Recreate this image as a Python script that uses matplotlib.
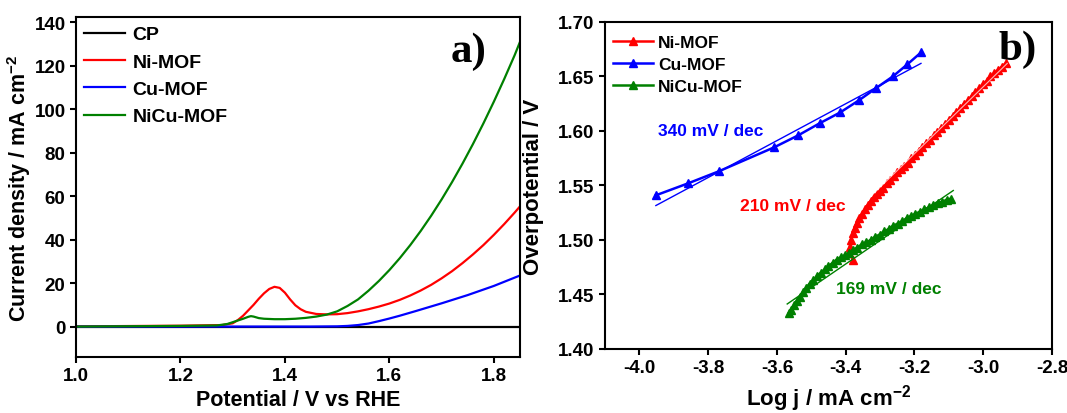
import matplotlib
matplotlib.use("Agg")
import matplotlib.pyplot as plt
import numpy as np

plt.rcParams['font.family'] = 'Liberation Sans'
plt.rcParams['font.weight'] = 'bold'
plt.rcParams['axes.unicode_minus'] = False
plt.rcParams['mathtext.fontset'] = 'custom'
plt.rcParams['mathtext.rm'] = 'Liberation Sans:bold'
plt.rcParams['mathtext.bf'] = 'Liberation Sans:bold'

# ---- LSV curves (left) ----
cp_v = [1.0, 1.85]
cp_j = [0.0, 0.0]

ni_v = [1.00, 1.20, 1.28, 1.30, 1.31, 1.32, 1.33, 1.34, 1.35, 1.36, 1.37, 1.38, 1.39,
        1.40, 1.41, 1.42, 1.43, 1.44, 1.46, 1.48, 1.50, 1.52, 1.54, 1.56, 1.58, 1.60,
        1.62, 1.64, 1.66, 1.68, 1.70, 1.72, 1.74, 1.76, 1.78, 1.80, 1.82, 1.84, 1.85]
ni_j = [0.1, 0.4, 0.7, 1.5, 3.0, 5.0, 7.5, 10.0, 12.8, 15.3, 17.3, 18.3, 17.8,
        15.6, 12.5, 9.8, 8.0, 6.8, 5.8, 5.6, 5.7, 6.2, 7.0, 8.0, 9.2, 10.6,
        12.3, 14.3, 16.6, 19.2, 22.2, 25.5, 29.2, 33.2, 37.5, 42.2, 47.2, 52.5, 55.3]

cu_v = [1.00, 1.45, 1.50, 1.52, 1.54, 1.56, 1.58, 1.60, 1.62, 1.65, 1.70, 1.75, 1.80, 1.85]
cu_j = [0.0, 0.0, 0.1, 0.3, 0.7, 1.4, 2.5, 3.7, 5.0, 7.1, 10.7, 14.5, 18.7, 23.5]

nicu_v = [1.00, 1.20, 1.27, 1.29, 1.30, 1.31, 1.32, 1.33, 1.335, 1.34, 1.35, 1.36, 1.38,
          1.40, 1.42, 1.44, 1.46, 1.48, 1.50, 1.52, 1.54, 1.56, 1.58, 1.60, 1.62, 1.64,
          1.66, 1.68, 1.70, 1.72, 1.74, 1.76, 1.78, 1.80, 1.82, 1.84, 1.85]
nicu_j = [0.0, 0.3, 0.5, 1.2, 2.0, 2.8, 3.6, 4.5, 4.8, 4.6, 3.9, 3.6, 3.4,
          3.4, 3.6, 4.0, 4.6, 5.5, 7.0, 9.5, 12.5, 16.5, 21.0, 26.0, 31.5, 37.5,
          44.0, 51.0, 58.5, 66.5, 75.0, 84.0, 93.5, 103.5, 114.0, 125.0, 131.0]

# ---- Tafel plots (right) ----
cu_logj = [-3.952, -3.858, -3.769, -3.608, -3.538, -3.476, -3.416, -3.362, -3.313,
           -3.263, -3.221, -3.181]
cu_eta = [1.541, 1.552, 1.563, 1.585, 1.596, 1.607, 1.617, 1.628, 1.639,
          1.650, 1.661, 1.672]

ni_logj = [-3.378, -3.390, -3.388, -3.385, -3.380, -3.374, -3.367, -3.360, -3.352,
           -3.344, -3.336, -3.327, -3.318, -3.309, -3.300, -3.290, -3.280, -3.270,
           -3.260, -3.250, -3.240, -3.230, -3.220, -3.210, -3.199, -3.188, -3.177,
           -3.166, -3.155, -3.144, -3.133, -3.122, -3.111, -3.100, -3.089, -3.078,
           -3.067, -3.056, -3.045, -3.034, -3.023, -3.012, -3.001, -2.990, -2.979,
           -2.968, -2.957, -2.946, -2.935]
ni_eta = [1.482, 1.488, 1.494, 1.500, 1.506, 1.511, 1.516, 1.520, 1.524,
          1.528, 1.532, 1.536, 1.539, 1.542, 1.545, 1.548, 1.552, 1.555,
          1.559, 1.562, 1.565, 1.568, 1.571, 1.575, 1.578, 1.582, 1.585,
          1.589, 1.592, 1.596, 1.599, 1.603, 1.606, 1.610, 1.614, 1.617,
          1.621, 1.625, 1.628, 1.632, 1.636, 1.639, 1.643, 1.646, 1.650,
          1.653, 1.656, 1.659, 1.662]

nicu_logj = [-3.565, -3.558, -3.550, -3.542, -3.534, -3.525, -3.515, -3.505, -3.494,
             -3.483, -3.472, -3.461, -3.450, -3.438, -3.426, -3.414, -3.402, -3.390,
             -3.378, -3.366, -3.353, -3.340, -3.327, -3.314, -3.301, -3.288, -3.275,
             -3.262, -3.249, -3.236, -3.223, -3.210, -3.197, -3.184, -3.171, -3.158,
             -3.145, -3.132, -3.119, -3.106, -3.093]
nicu_eta = [1.433, 1.436, 1.440, 1.444, 1.448, 1.452, 1.456, 1.460, 1.463,
            1.467, 1.470, 1.473, 1.476, 1.479, 1.482, 1.484, 1.486, 1.488,
            1.491, 1.493, 1.496, 1.498, 1.500, 1.503, 1.505, 1.508, 1.510,
            1.513, 1.515, 1.517, 1.520, 1.522, 1.524, 1.526, 1.528, 1.530,
            1.532, 1.534, 1.535, 1.537, 1.538]

# linear fit segments (end points)
cu_fit_x = [-3.952, -3.181]
cu_fit_y = [1.5316, 1.6620]
ni_fit_x = [-3.360, -2.930]
ni_fit_y = [1.530, 1.662]
nicu_fit_x = [-3.570, -3.087]
nicu_fit_y = [1.4413, 1.5454]

slope_labels = ["340 mV / dec", "210 mV / dec", "169 mV / dec"]

RED = '#ff0000'
BLUE = '#0000ff'
GREEN = '#008000'

fig = plt.figure(figsize=(10.67, 4.14), dpi=100)
ax1 = fig.add_axes([0.0712, 0.1353, 0.4161, 0.8213])
ax2 = fig.add_axes([0.5670, 0.1546, 0.4189, 0.7899])

for ax in (ax1, ax2):
    for s in ax.spines.values():
        s.set_linewidth(1.5)
    ax.tick_params(direction='out', length=4, width=1.5, labelsize=13.5,
                   top=False, right=False)

# left panel
ax1.plot(cp_v, cp_j, color='black', lw=1.6, label='CP')
ax1.plot(ni_v, ni_j, color=RED, lw=1.6, label='Ni-MOF')
ax1.plot(cu_v, cu_j, color=BLUE, lw=1.6, label='Cu-MOF')
ax1.plot(nicu_v, nicu_j, color=GREEN, lw=1.6, label='NiCu-MOF')
ax1.set_xlim(1.0, 1.85)
ax1.set_ylim(-14, 142.5)
ax1.set_xticks(np.arange(1.0, 1.81, 0.2))
ax1.set_yticks(np.arange(0, 141, 20))
ax1.xaxis.set_major_formatter(plt.FormatStrFormatter('%.1f'))
ax1.set_xlabel('Potential / V vs RHE', fontsize=15.5, fontweight='bold')
ax1.set_ylabel(r'Current density / mA cm$^{-2}$', fontsize=15.5, fontweight='bold')
ax1.xaxis.set_label_coords(0.5, -0.093)
ax1.yaxis.set_label_coords(-0.128, 0.5)
ax1.yaxis.label.set_va('center')
ax1.legend(loc='upper left', frameon=False, fontsize=14, handlelength=2.1,
           handletextpad=0.4, labelspacing=0.5, borderaxespad=0.0,
           bbox_to_anchor=(0.0, 0.997))
ax1.text(1.718, 126.8, 'a)', fontsize=31, fontweight='bold', family='Liberation Serif',
         va='center', ha='left')

# right panel
ax2.plot(ni_logj, ni_eta, color=RED, lw=1.8, marker='^', ms=6, label='Ni-MOF')
ax2.plot(cu_logj, cu_eta, color=BLUE, lw=1.8, marker='^', ms=6, label='Cu-MOF')
ax2.plot(nicu_logj, nicu_eta, color=GREEN, lw=1.8, marker='^', ms=6, label='NiCu-MOF')
ax2.plot(ni_fit_x, ni_fit_y, color='white', lw=0.8, alpha=0.7)
ax2.plot(cu_fit_x, cu_fit_y, color=BLUE, lw=1.0)
ax2.plot(nicu_fit_x, nicu_fit_y, color=GREEN, lw=1.0)
ax2.set_xlim(-4.1, -2.8)
ax2.set_ylim(1.40, 1.70)
ax2.set_xticks(np.arange(-4.0, -2.79, 0.2))
ax2.set_yticks(np.arange(1.40, 1.701, 0.05))
ax2.xaxis.set_major_formatter(plt.FormatStrFormatter('%.1f'))
ax2.yaxis.set_major_formatter(plt.FormatStrFormatter('%.2f'))
ax2.set_xlabel(r'Log j / mA cm$^{-2}$', fontsize=16, fontweight='bold')
ax2.set_ylabel('Overpotential / V', fontsize=16, fontweight='bold')
ax2.xaxis.set_label_coords(0.5, -0.100)
ax2.yaxis.set_label_coords(-0.159, 0.5)
ax2.yaxis.label.set_va('center')
ax2.legend(loc='upper left', frameon=False, fontsize=12.5, handlelength=2.3,
           handletextpad=0.3, labelspacing=0.4, borderaxespad=0.0,
           bbox_to_anchor=(0.002, 0.983))
ax2.text(-3.947, 1.6005, slope_labels[0], color=BLUE, fontsize=12.5, fontweight='bold', va='center')
ax2.text(-3.708, 1.5316, slope_labels[1], color=RED, fontsize=12.5, fontweight='bold', va='center')
ax2.text(-3.428, 1.4557, slope_labels[2], color=GREEN, fontsize=12.5, fontweight='bold', va='center')
ax2.text(-2.955, 1.675, 'b)', fontsize=31, fontweight='bold', family='Liberation Serif',
         va='center', ha='left')

fig.savefig('out.png', dpi=100)
